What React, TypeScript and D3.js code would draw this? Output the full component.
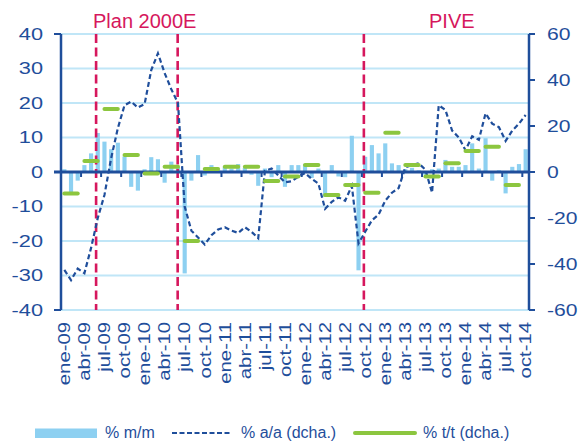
import React from 'react';
import * as d3 from 'd3';

const width = 578;
const height = 447;
const plot = {left: 61, right: 529, top: 34, bottom: 310};

const navy = '#1f4e9b';
const barBlue = '#8dd0f1';
const gridBlue = '#c0e6f7';
const green = '#8cc63f';
const crimson = '#d6175d';

// % m/m (left axis), ene-09 .. oct-14
const mom = [
  0.8, -6.0, -2.5, 2.0, 5.4, 11.3, 8.8, 6.6, 8.5, 4.5, -4.3, -5.4,
  0.8, 4.3, 3.7, -3.1, 3.0, 1.5, -29.4, -2.5, 4.9, -1.0, 2.0, 0.5,
  1.5, 1.0, 2.3, 1.2, -0.8, -4.0, 1.0, -1.5, 2.0, -4.3, 2.0, 2.0,
  2.3, -1.7, 1.0, -7.2, 2.0, -1.3, -1.5, 10.5, -28.5, 4.4, 7.8, 5.4,
  8.3, 2.5, 2.0, 0.8, 1.2, 0.5, -0.8, 0.8, 1.0, 3.5, 1.5, 1.5,
  2.0, 8.3, 1.0, 9.8, -2.5, 0.5, -6.2, 1.5, 2.3, 6.6,
];

// % a/a (right axis)
const yoy = [
  -42.6, -47, -42, -44, -33, -20, -10, 6, 19, 29, 30.6, 28,
  29.5, 44.3, 51.6, 43, 36, 29.9, -15, -25.5, -28.5, -31.5, -27.5, -25,
  -24, -25.5, -26.5, -24, -26, -28.8, 0.5, 1.5, -1.5, -4.5, -4, -2,
  -0.5, -3, -5, -16, -13, -11, -12.5, -6, -31, -26, -21, -18.5,
  -12.5, -9, -7, 2, 3, 3.8, 1, -9, 29, 27, 18, 15,
  9.5, 15.5, 14, 25.5, 21, 19.5, 13.5, 18, 21, 24.8,
];

// % t/t (right axis), one per quarter, drawn at the middle month
const qoq = [
  -9.3, 4.8, 27.4, 7.4, -0.6, 2.3, -30, 1.3, 2.3, 2.3, -3.9, -2.0,
  3.0, -10, -5.7, -9.0, 17.1, 3.0, -2.0, 3.8, 9.1, 11.0, -5.7,
];

const tickLabels = [
  'ene-09', 'abr-09', 'jul-09', 'oct-09', 'ene-10', 'abr-10', 'jul-10', 'oct-10',
  'ene-11', 'abr-11', 'jul-11', 'oct-11', 'ene-12', 'abr-12', 'jul-12', 'oct-12',
  'ene-13', 'abr-13', 'jul-13', 'oct-13', 'ene-14', 'abr-14', 'jul-14', 'oct-14',
];

// month positions of the programme markers
const eventLines = [5.25, 17.45, 45.3];

const App: React.FC = () => {
  const n = mom.length;
  const x = d3.scaleLinear().domain([0, n]).range([plot.left, plot.right]);
  const yL = d3.scaleLinear().domain([-40, 40]).range([plot.bottom, plot.top]);
  const yR = d3.scaleLinear().domain([-60, 60]).range([plot.bottom, plot.top]);
  const barW = (x(1) - x(0)) * 0.62;

  const yoyPath = d3.line<number>()
    .x((_, i) => x(i + 0.5))
    .y(d => yR(d))(yoy) || '';

  const leftTicks = d3.range(-40, 41, 10);
  const rightTicks = d3.range(-60, 61, 20);
  const font = 'Liberation Sans, Arial, sans-serif';

  return (
    <svg width={width} height={height} style={{position: 'absolute', left: 0, top: 0}} fontFamily={font}>
      {leftTicks.filter(t => t !== 0).map(t => (
        <line key={t} x1={plot.left} x2={plot.right} y1={yL(t)} y2={yL(t)} stroke={gridBlue} strokeWidth={2} />
      ))}

      {mom.map((v, i) => (
        <rect key={i} x={x(i + 0.5) - barW / 2} width={barW}
          y={Math.min(yL(v), yL(0))} height={Math.abs(yL(v) - yL(0))} fill={barBlue} />
      ))}

      {eventLines.map((m, i) => (
        <line key={i} x1={x(m)} x2={x(m)} y1={plot.top} y2={plot.bottom}
          stroke={crimson} strokeWidth={2.6} strokeDasharray="9,4.5" />
      ))}

      <line x1={54} x2={plot.right} y1={yL(0)} y2={yL(0)} stroke={navy} strokeWidth={3} />
      {d3.range(3, n, 3).map(k => (
        <line key={k} x1={x(k)} x2={x(k)} y1={yL(0)} y2={yL(0) + 5} stroke={navy} strokeWidth={2} />
      ))}

      <line x1={plot.left} x2={plot.left} y1={plot.top} y2={plot.bottom} stroke={navy} strokeWidth={2.5} />
      {[-40, 40].map(t => (
        <line key={t} x1={54} x2={plot.left} y1={yL(t)} y2={yL(t)} stroke={navy} strokeWidth={2} />
      ))}
      <line x1={plot.right} x2={plot.right} y1={plot.top} y2={plot.bottom} stroke={navy} strokeWidth={2.5} />
      {rightTicks.map(t => (
        <line key={t} x1={plot.right} x2={plot.right + 6} y1={yR(t)} y2={yR(t)} stroke={navy} strokeWidth={2} />
      ))}

      <path d={yoyPath} fill="none" stroke={navy} strokeWidth={2.2} strokeDasharray="5,3" />

      {qoq.map((v, q) => {
        const m = q * 3 + 1;
        return (
          <line key={q} x1={x(m - 0.5)} x2={x(m + 1.5)} y1={yR(v)} y2={yR(v)}
            stroke={green} strokeWidth={4} strokeLinecap="round" />
        );
      })}

      {leftTicks.map(t => (
        <text key={t} transform={`translate(43,${yL(t)}) scale(1.36,1)`} textAnchor="end" dy="0.35em"
          fontSize={16} fill={navy}>{t < 0 ? `-${-t}` : t}</text>
      ))}
      {rightTicks.map(t => (
        <text key={t} transform={`translate(547,${yR(t)}) scale(1.32,1)`} textAnchor="start" dy="0.35em"
          fontSize={16} fill={navy}>{t < 0 ? `-${-t}` : t}</text>
      ))}

      {tickLabels.map((l, i) => (
        <text key={l} transform={`translate(${x(i * 3 + 0.5)},322) rotate(-90) scale(1.27,1)`}
          textAnchor="end" dy="0.36em" fontSize={16} fill={navy}>{l}</text>
      ))}

      <text x={93} y={28} fontSize={20} fill={crimson}>Plan 2000E</text>
      <text x={429} y={28} fontSize={20} fill={crimson}>PIVE</text>

      <g fontSize={16} fill={navy}>
        <rect x={35} y={428.5} width={62} height={9.5} fill={barBlue} />
        <text x={105} y={438}>% m/m</text>
        <line x1={172} x2={231} y1={433} y2={433} stroke={navy} strokeWidth={2} strokeDasharray="5,2.5" />
        <text x={241} y={438}>% a/a (dcha.)</text>
        <line x1={355} x2={415} y1={433} y2={433} stroke={green} strokeWidth={4} strokeLinecap="round" />
        <text x={423} y={438}>% t/t (dcha.)</text>
      </g>
    </svg>
  );
};

export default App;
